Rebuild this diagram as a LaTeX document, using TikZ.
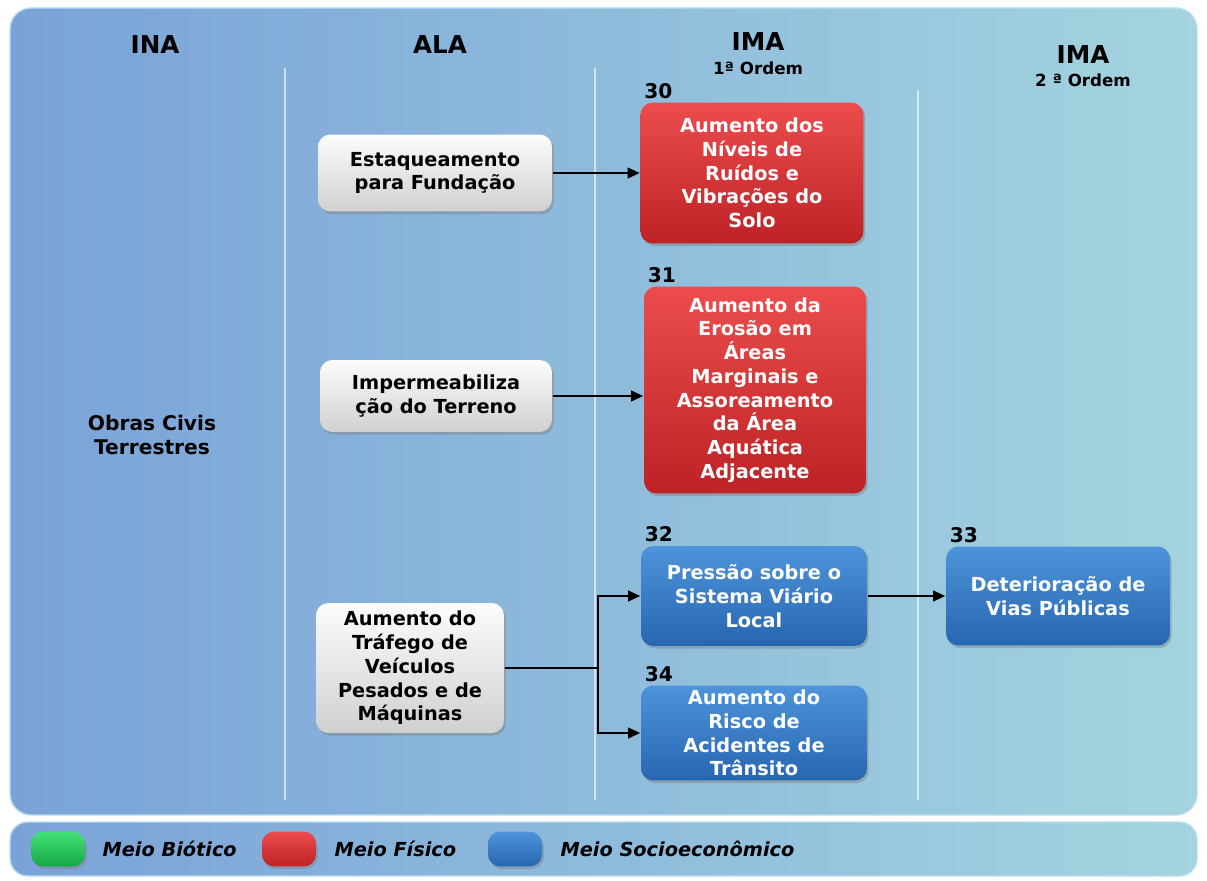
\documentclass[tikz,border=0pt]{standalone}
\usepackage{fontspec}
\setmainfont{DejaVu Sans}
\usetikzlibrary{calc,shadows,arrows.meta}

\definecolor{painelE}{RGB}{122,162,216}
\definecolor{painelD}{RGB}{164,212,223}
\definecolor{borda}{RGB}{185,222,238}
\definecolor{cinzaA}{RGB}{252,252,252}
\definecolor{cinzaB}{RGB}{208,208,208}
\definecolor{vermA}{RGB}{236,76,76}
\definecolor{vermB}{RGB}{190,34,38}
\definecolor{azulA}{RGB}{78,148,218}
\definecolor{azulB}{RGB}{38,102,176}
\definecolor{verdeA}{RGB}{70,225,120}
\definecolor{verdeB}{RGB}{18,168,70}

\begin{document}
\begin{tikzpicture}[x=0.02cm, y=-0.02cm, thick,
  caixa/.style={rounded corners=7pt, align=center, inner sep=2pt,
    font=\bfseries\fontsize{11}{13.5}\selectfont,
    drop shadow={opacity=0.45, shadow xshift=1pt, shadow yshift=-1.5pt}},
  ala/.style={caixa, top color=cinzaA, bottom color=cinzaB, text=black},
  fisico/.style={caixa, top color=vermA, bottom color=vermB, text=white},
  socio/.style={caixa, top color=azulA, bottom color=azulB, text=white},
  num/.style={anchor=south west, inner sep=1pt, font=\bfseries\fontsize{11.5}{12}\selectfont},
  titulo/.style={font=\bfseries\fontsize{14}{15}\selectfont},
  ordem/.style={font=\bfseries\fontsize{9.5}{10}\selectfont},
  seta/.style={-{Triangle[length=7pt,width=6pt]}, line width=1.5pt},
  divisa/.style={white, opacity=0.6, line width=0.8pt},
  legenda/.style={anchor=west, font=\bfseries\itshape\fontsize{11}{12}\selectfont}]

  \useasboundingbox (0,0) rectangle (1207,881);

  % 背景面板
  \shade[left color=painelE, right color=painelD, draw=borda, rounded corners=12pt]
    (10,8) rectangle (1197,815);
  \shade[left color=painelE, right color=painelD, draw=borda, rounded corners=10pt]
    (10,822) rectangle (1197,876);

  % 分栏线
  \draw[divisa] (285,68) -- (285,800);
  \draw[divisa] (595,68) -- (595,800);
  \draw[divisa] (918,90) -- (918,800);

  % 栏标题
  \node[titulo] (tINA) at (155,45) {INA};
  \node[titulo] (tALA) at (440,45) {ALA};
  \node[titulo] (tIMA1) at (758,42) {IMA};
  \node[ordem]  (tOrd1) at (758,68) {1ª Ordem};
  \node[titulo] (tIMA2) at (1083,55) {IMA};
  \node[ordem]  (tOrd2) at (1083,80) {2 ª Ordem};

  \node[font=\bfseries\fontsize{11.5}{13.5}\selectfont, align=center] (ina) at (152,435)
    {Obras Civis\\Terrestres};

  % ALA
  \node[ala, minimum width=4.68cm, minimum height=1.54cm] (a1) at (435,173)
    {Estaqueamento\\para Fundação};
  \node[ala, minimum width=4.64cm, minimum height=1.44cm] (a2) at (436,396)
    {Impermeabiliza\\ção do Terreno};
  \node[ala, minimum width=3.76cm, minimum height=2.6cm] (a3) at (410,668)
    {Aumento do\\Tráfego de\\Veículos\\Pesados e de\\Máquinas};

  % IMA 1ª ordem
  \node[fisico, minimum width=4.46cm, minimum height=2.82cm] (i30) at (752,173)
    {Aumento dos\\Níveis de\\Ruídos e\\Vibrações do\\Solo};
  \node[fisico, minimum width=4.44cm, minimum height=4.14cm] (i31) at (755,390)
    {Aumento da\\Erosão em\\Áreas\\Marginais e\\Assoreamento\\da Área\\Aquática\\Adjacente};
  \node[socio, minimum width=4.52cm, minimum height=2.0cm] (i32) at (754,596)
    {Pressão sobre o\\Sistema Viário\\Local};
  \node[socio, minimum width=4.52cm, minimum height=1.9cm] (i34) at (754,733)
    {Aumento do\\Risco de\\Acidentes de\\Trânsito};

  % IMA 2ª ordem
  \node[socio, minimum width=4.48cm, minimum height=1.98cm] (i33) at (1058,596)
    {Deterioração de\\Vias Públicas};

  % 编号
  \node[num] (n30) at ($(i30.north west)+(2,-1)$) {30};
  \node[num] (n31) at ($(i31.north west)+(2,-1)$) {31};
  \node[num] (n32) at ($(i32.north west)+(2,-1)$) {32};
  \node[num] (n34) at ($(i34.north west)+(2,-1)$) {34};
  \node[num] (n33) at ($(i33.north west)+(2,-1)$) {33};

  % 箭头
  \coordinate (j) at (598,668);
  \draw[seta] (a1.east) -- (i30.west |- a1.east);
  \draw[seta] (a2.east) -- (i31.west |- a2.east);
  \draw[line width=1.5pt] (a3.east) -- (j);
  \draw[seta] (j) |- (i32.west);
  \draw[seta] (j) |- (i34.west);
  \draw[seta] (i32.east) -- (i33.west);

  % 图例
  \node[caixa, top color=verdeA, bottom color=verdeB, minimum width=1.08cm, minimum height=0.7cm] (lg1) at (58,849) {};
  \node[legenda] (tl1) at (96,849) {Meio Biótico};
  \node[caixa, top color=vermA, bottom color=vermB, minimum width=1.08cm, minimum height=0.7cm] (lg2) at (289,849) {};
  \node[legenda] (tl2) at (328,849) {Meio Físico};
  \node[caixa, top color=azulA, bottom color=azulB, minimum width=1.08cm, minimum height=0.7cm] (lg3) at (515,849) {};
  \node[legenda] (tl3) at (554,849) {Meio Socioeconômico};
\end{tikzpicture}
\end{document}
